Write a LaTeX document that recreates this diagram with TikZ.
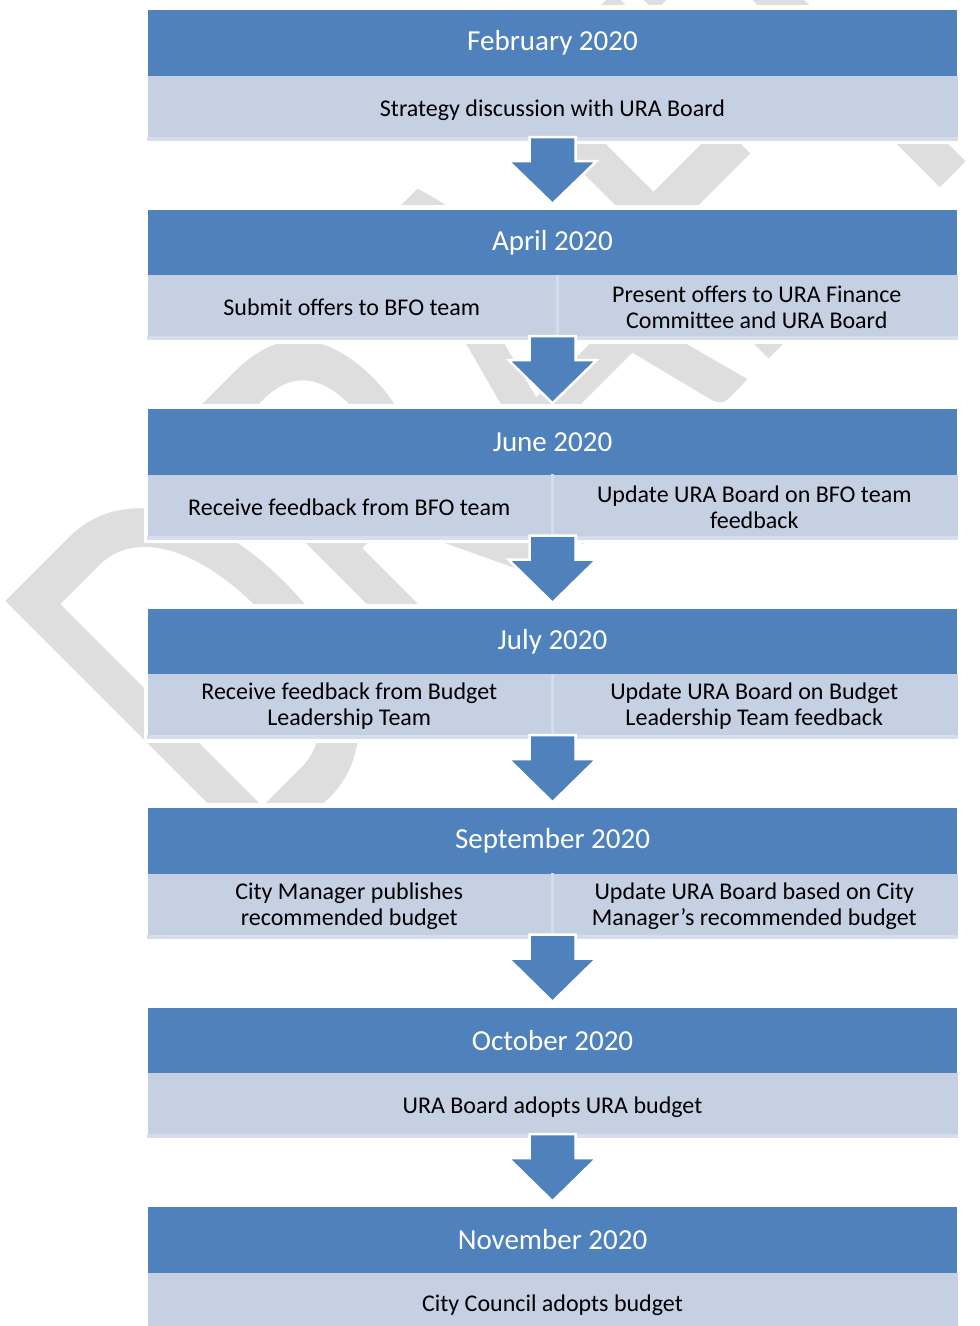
\documentclass[tikz,border=0pt]{standalone}
\usepackage{fontspec}
\setmainfont{Carlito}
\usetikzlibrary{calc}
\definecolor{hdrblue}{RGB}{79,129,189}
\definecolor{rowblue}{RGB}{197,208,227}
\definecolor{striplt}{RGB}{214,222,235}
\definecolor{divlt}{RGB}{212,220,234}
\definecolor{wmgray}{RGB}{222,222,222}
\tikzset{
  hdr/.style={fill=hdrblue, text=white, minimum width=809pt, minimum height=66pt,
    inner sep=0pt, font=\fontsize{29}{30}\selectfont},
  cell/.style={fill=rowblue, text=black, minimum height=65pt, inner sep=0pt,
    align=center, font=\fontsize{24}{26}\selectfont},
  halo/.style={fill=white},
  strip/.style={fill=striplt},
  divider/.style={draw=divlt, line width=3pt},
  blockarrow/.style={fill=hdrblue, draw=white, line width=2.5pt, line join=miter},
  wm/.style={text=wmgray, inner sep=0pt, font=\fontsize{410}{410}\selectfont}
}
\begin{document}
\begin{tikzpicture}[x=1pt,y=-1pt]
\clip (0,0) rectangle (980,1326);
\useasboundingbox (0,0) rectangle (980,1326);
\fill[white] (0,0) rectangle (980,1326);
% watermark
\begin{scope}[shift={(246,882)}]
  \node[wm, anchor=base west, rotate=45, yscale=1.4] (wm) at (0,0) {DRAFT};
\end{scope}
% halos
\foreach \t in {10,209.5,409,608.5,808,1007.5,1207}
  \fill[halo] (143.5,\t-5) rectangle (961.5,\t+134);
% Block 1
\node[hdr] (h1) at (552.5,43) {February 2020};
\node[cell, minimum width=810pt, text depth=1pt] (c1) at (552.5,108.5) {Strategy discussion with URA Board};
\fill[strip] ($(c1.south west)+(0,-4)$) rectangle (c1.south east);
% Block 2
\node[hdr] (h2) at (552.5,242.5) {April 2020};
\node[cell, minimum width=408.5pt] (l2) at (351.75,307.5) {Submit offers to BFO team};
\node[cell, minimum width=401.5pt] (r2) at (756.75,307.5) {Present offers to URA Finance\\Committee and URA Board};
\fill[strip] ($(l2.south west)+(0,-4)$) rectangle (r2.south east);
\draw[divider] ($(l2.north east)+(1.5,0)$) -- ($(l2.south east)+(1.5,0)$);
% Block 3
\node[hdr] (h3) at (552.5,442) {June 2020};
\node[cell, minimum width=403.5pt] (l3) at (349.25,507) {Receive feedback from BFO team};
\node[cell, minimum width=406.5pt] (r3) at (754.25,507) {Update URA Board on BFO team\\feedback};
\fill[strip] ($(l3.south west)+(0,-4)$) rectangle (r3.south east);
\draw[divider] ($(l3.north east)+(1.5,0)$) -- ($(l3.south east)+(1.5,0)$);
% Block 4
\node[hdr] (h4) at (552.5,641.5) {July 2020};
\node[cell, minimum width=403.5pt] (l4) at (349.25,706.5) {Receive feedback from Budget\\Leadership Team};
\node[cell, minimum width=406.5pt] (r4) at (754.25,706.5) {Update URA Board on Budget\\Leadership Team feedback};
\fill[strip] ($(l4.south west)+(0,-4)$) rectangle (r4.south east);
\draw[divider] ($(l4.north east)+(1.5,0)$) -- ($(l4.south east)+(1.5,0)$);
% Block 5
\node[hdr] (h5) at (552.5,841) {September 2020};
\node[cell, minimum width=403.5pt] (l5) at (349.25,906) {City Manager publishes\\recommended budget};
\node[cell, minimum width=406.5pt] (r5) at (754.25,906) {Update URA Board based on City\\Manager's recommended budget};
\fill[strip] ($(l5.south west)+(0,-4)$) rectangle (r5.south east);
\draw[divider] ($(l5.north east)+(1.5,0)$) -- ($(l5.south east)+(1.5,0)$);
% Block 6
\node[hdr] (h6) at (552.5,1040.5) {October 2020};
\node[cell, minimum width=810pt, text depth=1pt] (c6) at (552.5,1105.5) {URA Board adopts URA budget};
\fill[strip] ($(c6.south west)+(0,-4)$) rectangle (c6.south east);
% Block 7
\node[hdr] (h7) at (552.5,1240) {November 2020};
\node[cell, minimum width=810pt] (c7) at (552.5,1305) {City Council adopts budget};
% arrows
\foreach \a/\b in {c1/h2,l2/h3,l3/h4,l4/h5,l5/h6,c6/h7}{
  \coordinate (s) at (\a.south -| h1.south);
  \draw[blockarrow] ($(s)+(-23,-4)$) -- ($(s)+(-23,20)$) -- ($(s)+(-44,20)$)
    -- ($(\b.north)+(0,-5.5)$) -- ($(s)+(44,20)$) -- ($(s)+(23,20)$)
    -- ($(s)+(23,-4)$) -- cycle;
}
\end{tikzpicture}
\end{document}
